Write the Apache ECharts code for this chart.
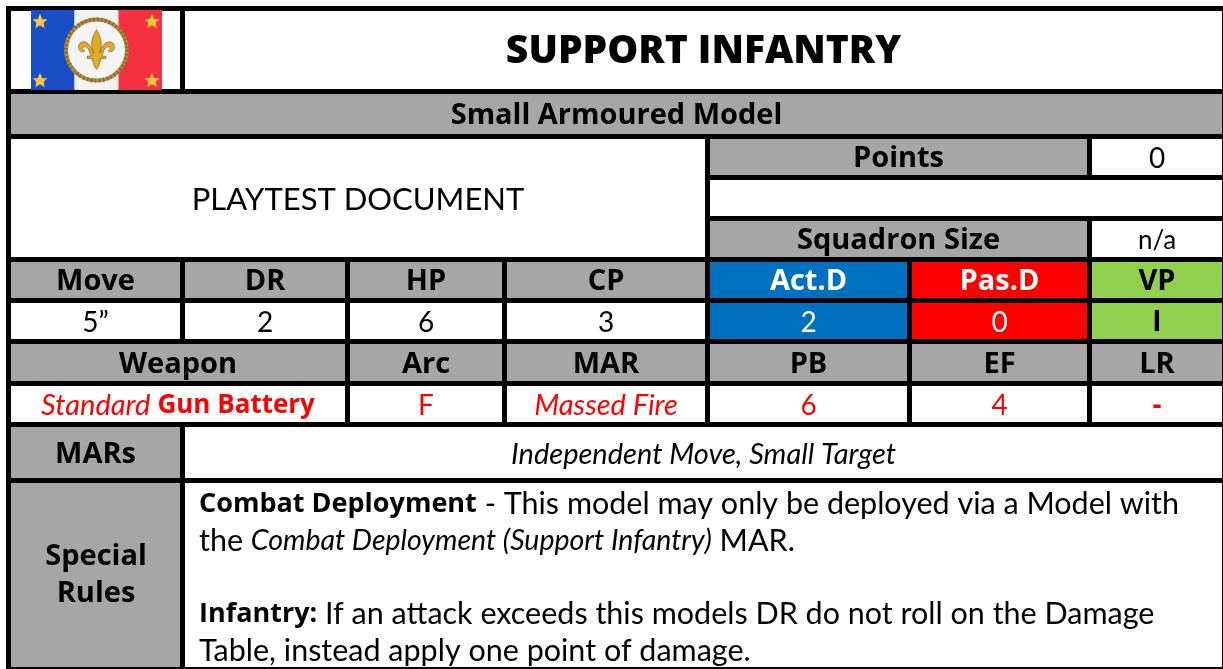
<!DOCTYPE html>
<html><head><meta charset="utf-8">
<style>html,body{margin:0;padding:0;background:#fff}#c{width:1223px;height:669px}</style>
<script src="https://cdn.jsdelivr.net/npm/echarts@6/dist/echarts.min.js"></script>
</head><body><div id="c"></div>
<script>
const title = 'SUPPORT INFANTRY';
const subtitle = 'Small Armoured Model';
const note = 'PLAYTEST DOCUMENT';
const statHeaders = ['Move','DR','HP','CP','Act.D','Pas.D','VP'];
const statValues = ['5\u201D','2','6','3','2','0','I'];
const weaponHeaders = ['Weapon','Arc','MAR','PB','EF','LR'];
const weaponValues = ['{i|Standard} {b|Gun Battery}','F','{i|Massed Fire}','6','4','-'];
const pointsLabel='Points', pointsValue='0', sizeLabel='Squadron Size', sizeValue='n/a';
const marsLabel='MARs', marsText='Independent Move, Small Target';
const rulesLabel=['Special','Rules'];
const ruleLines=[
 '{b|Combat Deployment} - This model may only be deployed via a Model with',
 'the {i|Combat Deployment (Support Infantry)} MAR.',
 '',
 '{b|Infantry:} If an attack exceeds this models DR do not roll on the Damage',
 'Table, instead apply one point of damage.'
];
const starCentres=[[40,21],[152,21],[40,80],[152,80]];

const GRAY='#a6a6a6',WHITE='#ffffff',BLUE='#0070c0',RED='#ff0000',GREEN='#92d050',BLACK='#000000';
const FONT='Lato', BOLD='Open Sans';
const Y={titleTop:11,titleBot:89,subTop:94,subBot:134,p1:139,p1b:175,p2:180,p2b:216,p3:221,p3b:257,
 h1:262,h1b:298,v1:303,v1b:339,h2:344,h2b:381,v2:386,v2b:422,m:427,mb:478,r:483,rb:667};
const R=1222;
const size={title:39,head:29,val:28,rule:30.5,ital:29};
const cells=[];
function cell(x0,x1,y0,y1,fill,text,fs,w,color,st){cells.push({x0,x1,y0,y1,fill,text,fs,w,color,st});}
cell(11,180,Y.titleTop,Y.titleBot,WHITE,'',0);
cell(185,R,Y.titleTop,Y.titleBot,WHITE,title,size.title,'800',BLACK);
cell(11,R,Y.subTop,Y.subBot,GRAY,subtitle,size.head,'bold',BLACK);
cell(11,705,Y.p1,Y.p3b,WHITE,note,31,'normal',BLACK);
cell(710,1087,Y.p1,Y.p1b,GRAY,pointsLabel,size.head,'bold',BLACK);
cell(1092,R,Y.p1,Y.p1b,WHITE,pointsValue,size.val,'normal',BLACK);
cell(710,R,Y.p2,Y.p2b,WHITE,'',0);
cell(710,1087,Y.p3,Y.p3b,GRAY,sizeLabel,size.head,'bold',BLACK);
cell(1092,R,Y.p3,Y.p3b,WHITE,sizeValue,26,'normal',BLACK);
const sx=[[11,180],[185,345],[350,502],[507,705],[710,907],[912,1087],[1092,R]];
const hf=[GRAY,GRAY,GRAY,GRAY,BLUE,RED,GREEN];
const hc=[BLACK,BLACK,BLACK,BLACK,WHITE,WHITE,BLACK];
statHeaders.forEach((t,i)=>cell(sx[i][0],sx[i][1],Y.h1,Y.h1b,hf[i],t,size.head,'bold',hc[i]));
const vf=[WHITE,WHITE,WHITE,WHITE,BLUE,RED,GREEN];
statValues.forEach((t,i)=>cell(sx[i][0],sx[i][1],Y.v1,Y.v1b,vf[i],t,size.val,i==6?'bold':'normal',hc[i]));
const wx=[[11,345],[350,502],[507,705],[710,907],[912,1087],[1092,R]];
weaponHeaders.forEach((t,i)=>cell(wx[i][0],wx[i][1],Y.h2,Y.h2b,GRAY,t,size.head,'bold',BLACK));
weaponValues.forEach((t,i)=>cell(wx[i][0],wx[i][1],Y.v2,Y.v2b,WHITE,t,size.val,i==5?'bold':'normal',RED));
cell(11,180,Y.m,Y.mb,GRAY,marsLabel,size.head,'bold',BLACK);
cell(185,R,Y.m,Y.mb,WHITE,marsText,size.ital,'normal',BLACK,'italic');
cell(11,180,Y.r,Y.rb,GRAY,'',0);
cell(185,R,Y.r,Y.rb,WHITE,'',0);

const FLEUR='M0,-25 C4,-18 7,-11 6,-4 C6,-1 5,2 4,5 C6,1 8,-7 14,-9 C20,-11 24,-6 23,-1 C22,3 18,5 15,2 C18,2 19,-2 16,-3 C12,-4 9,1 7,9 L12,9 L12,12 L5,12 L6,15 L4,15 L3,22 L0,26 L-3,22 L-4,15 L-6,15 L-5,12 L-12,12 L-12,9 L-7,9 C-9,1 -12,-4 -16,-3 C-19,-2 -18,2 -15,2 C-18,5 -22,3 -23,-1 C-24,-6 -20,-11 -14,-9 C-8,-7 -6,1 -4,5 C-5,2 -6,-1 -6,-4 C-7,-11 -4,-18 0,-25 Z';
const STAR='M0,-10 L2.9,-3.1 L9.5,-3.1 L4.7,1.2 L5.9,8.1 L0,4.5 L-5.9,8.1 L-4.7,1.2 L-9.5,-3.1 L-2.9,-3.1 Z';

const chart=echarts.init(document.getElementById('c'),null,{renderer:'canvas'});
function makeRich(fs,color,isItal,isRule){return {
  b:{fontFamily:BOLD,fontWeight:'bold',fontSize:isRule?27:26,fill:color},
  i:{fontFamily:FONT,fontStyle:'italic',fontSize:isRule?28.5:size.ital,fill:color}
};}
function familyOf(w){return w==='bold'||w==='800'?BOLD:FONT;}
chart.setOption({
 animation:false,
 grid:{left:0,right:0,top:0,bottom:0},
 xAxis:{type:'value',min:0,max:1223,show:false},
 yAxis:{type:'value',min:0,max:669,inverse:true,show:false},
 series:[
 { type:'custom',coordinateSystem:'cartesian2d',silent:true,clip:false,
   data:[[6,6,1217,663]],
   renderItem(p,api){
     const a=api.coord([api.value(0),api.value(1)]);
     return {type:'rect',shape:{x:a[0],y:a[1],width:api.value(2),height:api.value(3)},style:{fill:BLACK}};
   }},
 { type:'custom',coordinateSystem:'cartesian2d',silent:true,clip:false,
   data:cells.map((c,i)=>[c.x0,c.x1,c.y0,c.y1,i]),
   renderItem(p,api){
     const c=cells[api.value(4)];
     const a=api.coord([c.x0,c.y0]),b=api.coord([c.x1,c.y1]);
     const children=[{type:'rect',shape:{x:a[0],y:a[1],width:b[0]-a[0],height:b[1]-a[1]},style:{fill:c.fill}}];
     if(c.text){children.push({type:'text',style:{x:(a[0]+b[0])/2,y:(a[1]+b[1])/2+2,text:c.text,align:'center',verticalAlign:'middle',
        fontFamily:familyOf(c.w),fontSize:c.fs,fontWeight:c.w,fontStyle:c.st||'normal',fill:c.color,rich:makeRich(c.fs,c.color,false,false)}});}
     return {type:'group',children};
   }},
 { type:'custom',coordinateSystem:'cartesian2d',silent:true,clip:false,
   data:rulesLabel.map((t,i)=>[96,557+i*37,i]),
   renderItem(p,api){
     const a=api.coord([api.value(0),api.value(1)]);
     return {type:'text',style:{x:a[0],y:a[1],text:rulesLabel[api.value(2)],align:'center',verticalAlign:'middle',fontFamily:BOLD,fontSize:size.head,fontWeight:'bold',fill:BLACK}};
   }},
 { type:'custom',coordinateSystem:'cartesian2d',silent:true,clip:false,
   data:ruleLines.map((t,i)=>[199,504+i*36.8,i]),
   renderItem(p,api){
     const t=ruleLines[api.value(2)]; if(!t) return {type:'group',children:[]};
     const a=api.coord([api.value(0),api.value(1)]);
     return {type:'text',style:{x:a[0],y:a[1],text:t,align:'left',verticalAlign:'middle',fontFamily:FONT,fontSize:size.rule,fill:BLACK,rich:makeRich(size.rule,BLACK,false,true)}};
   }},
 { type:'custom',coordinateSystem:'cartesian2d',silent:true,clip:false,
   data:[[31,10,162,90]],
   renderItem(p,api){
     const a=api.coord([31,10]);
     const h=80,cx=a[0]+65.5,cy=a[1]+40;
     const kids=[
       {type:'rect',shape:{x:a[0],y:a[1],width:43.5,height:h},style:{fill:'#1a4dc8'}},
       {type:'rect',shape:{x:a[0]+43.5,y:a[1],width:44,height:h},style:{fill:'#f2f2f2'}},
       {type:'rect',shape:{x:a[0]+87.5,y:a[1],width:43.5,height:h},style:{fill:'#f6303f'}},
       {type:'circle',shape:{cx,cy,r:30.5},style:{fill:'#f4f4f4',stroke:'#b08a3c',lineWidth:4}},
       {type:'circle',shape:{cx,cy,r:30.5},style:{fill:'none',stroke:'#7a5a1c',lineWidth:4,lineDash:[1.5,2.5],opacity:0.7}},
       {type:'path',shape:{pathData:FLEUR,x:cx-18,y:cy-25,width:36,height:49},style:{fill:'#e3a92c',stroke:'#8a6518',lineWidth:0.7}}
     ];
     starCentres.forEach(s=>{const q=api.coord(s);kids.push({type:'path',shape:{pathData:STAR,x:q[0]-7.5,y:q[1]-7.5,width:15,height:15},style:{fill:'#f6c440'}});});
     return {type:'group',children:kids};
   }}
 ]
});
</script></body></html>
